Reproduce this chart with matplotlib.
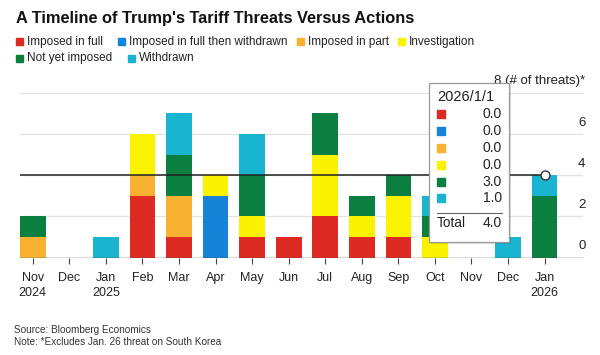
import matplotlib
matplotlib.use("Agg")
import matplotlib.pyplot as plt
import numpy as np
from matplotlib.patches import Rectangle
from matplotlib.lines import Line2D

plt.rcParams['font.family'] = ['Liberation Sans', 'DejaVu Sans']

# threats per month, stacked bottom -> top
months = ['Nov', 'Dec', 'Jan', 'Feb', 'Mar', 'Apr', 'May', 'Jun',
          'Jul', 'Aug', 'Sep', 'Oct', 'Nov', 'Dec', 'Jan']
years = {0: '2024', 2: '2025', 14: '2026'}
imposed_full = [0, 0, 0, 3, 1, 0, 1, 1, 2, 1, 1, 0, 0, 0, 0]
imposed_then_withdrawn = [0, 0, 0, 0, 0, 3, 0, 0, 0, 0, 0, 0, 0, 0, 0]
imposed_part = [1, 0, 0, 1, 2, 0, 0, 0, 0, 0, 0, 0, 0, 0, 0]
investigation = [0, 0, 0, 2, 0, 1, 1, 0, 3, 1, 2, 1, 0, 0, 0]
not_yet_imposed = [1, 0, 0, 0, 2, 0, 2, 0, 2, 1, 1, 1, 0, 0, 3]
withdrawn = [0, 0, 1, 0, 2, 0, 2, 0, 0, 0, 0, 1, 0, 1, 1]

series_names = ['Imposed in full', 'Imposed in full then withdrawn', 'Imposed in part',
                'Investigation', 'Not yet imposed', 'Withdrawn']
series = [imposed_full, imposed_then_withdrawn, imposed_part,
          investigation, not_yet_imposed, withdrawn]
colors = ['#dd2a22', '#1583d8', '#f9b131', '#fbf200', '#0b7f3f', '#19b4d0']

yticks = [0, 2, 4, 6, 8]
hover_idx = 14
hover_date = '2026/1/1'

W, H = 600, 355
fig = plt.figure(figsize=(6, 3.55), dpi=100)


def fx(px):
    return px / W


def fy(py):
    return 1 - py / H


ax = fig.add_axes([fx(20), fy(257.7), fx(563), (257.7 - 92.7) / H])
x = np.arange(len(months))
bottom = np.zeros(len(months))
for vals, c in zip(series, colors):
    ax.bar(x, vals, width=0.7, bottom=bottom, color=c, zorder=2, linewidth=0)
    bottom += np.array(vals)

ax.set_xlim(-0.35, 15.05)
ax.set_ylim(0, 8)
for v in yticks[1:]:
    ax.axhline(v, color='#e2e2e2', lw=0.9, zorder=1)
ax.axhline(0, color='#444444', lw=1.0, zorder=3)

for s in ax.spines.values():
    s.set_visible(False)
ax.set_yticks([])
ax.set_xticks(x)
ax.set_xticklabels([m + ('\n' + years[i] if i in years else '') for i, m in enumerate(months)],
                   fontsize=9, color='#222222', linespacing=1.35, va='top')
ax.tick_params(axis='x', length=4, width=0.8, color='#444444', pad=6)

# right-hand y labels, sitting above the gridlines
for v in yticks:
    lab = f'{v} (# of threats)*' if v == 8 else str(v)
    ax.text(15.12, v + 0.55, lab, ha='right', va='center', fontsize=9.5,
            color='#222222', zorder=4)

# hover crosshair on Jan 2026
total = bottom[hover_idx]
ax.plot([-0.35, hover_idx], [total, total], color='#222222', lw=1.1, zorder=5)
ax.plot([hover_idx], [total], marker='o', ms=6.5, mfc='white', mec='#333333',
        mew=1.0, zorder=6, clip_on=False)

# title and legend
fig.text(fx(16), fy(18), "A Timeline of Trump's Tariff Threats Versus Actions",
         fontsize=11.8, fontweight='bold', va='center', ha='left', color='#111111')
legend_pos = [(16, 41.7), (118, 41.7), (297, 41.7), (398, 41.7), (16, 58), (128, 58)]
for (lx, ly), name, c in zip(legend_pos, series_names, colors):
    fig.add_artist(Rectangle((fx(lx), fy(ly + 3.5)), fx(7), 7 / H, color=c,
                             transform=fig.transFigure))
    fig.text(fx(lx + 11), fy(ly), name, fontsize=8.5, va='center', ha='left',
             color='#222222')

fig.text(fx(14), fy(330), 'Source: Bloomberg Economics', fontsize=7.2,
         va='center', color='#333333')
fig.text(fx(14), fy(342), 'Note: *Excludes Jan. 26 threat on South Korea', fontsize=7.2,
         va='center', color='#333333')

# tooltip box
bx0, by0, bx1, by1 = 429, 83, 509, 242
fig.add_artist(Rectangle((fx(bx0 + 2), fy(by1 + 2)), fx(bx1 - bx0), (by1 - by0) / H,
                         facecolor='#000000', alpha=0.12, edgecolor='none',
                         transform=fig.transFigure, zorder=9))
fig.add_artist(Rectangle((fx(bx0), fy(by1)), fx(bx1 - bx0), (by1 - by0) / H,
                         facecolor='white', edgecolor='#9a9a9a', lw=0.9,
                         transform=fig.transFigure, zorder=10))
fig.text(fx(437), fy(97), hover_date, fontsize=10.5, va='center', ha='left',
         color='#222222', zorder=11)
row_y = [114, 131, 148, 165, 181.5, 198]
for ry, vals, c in zip(row_y, series, colors):
    fig.add_artist(Rectangle((fx(437), fy(ry + 4)), fx(8), 8 / H, color=c,
                             transform=fig.transFigure, zorder=11))
    fig.text(fx(502), fy(ry), f'{vals[hover_idx]:.1f}', fontsize=10, va='center',
             ha='right', color='#222222', zorder=11)
fig.add_artist(Line2D([fx(437), fx(502)], [fy(212.5), fy(212.5)], color='#666666',
                      lw=0.8, transform=fig.transFigure, zorder=11))
fig.text(fx(437), fy(223), 'Total', fontsize=9.8, va='center', ha='left',
         color='#222222', zorder=11)
fig.text(fx(502), fy(223), f'{total:.1f}', fontsize=10, va='center', ha='right',
         color='#222222', zorder=11)

fig.savefig('out.png', dpi=100)
